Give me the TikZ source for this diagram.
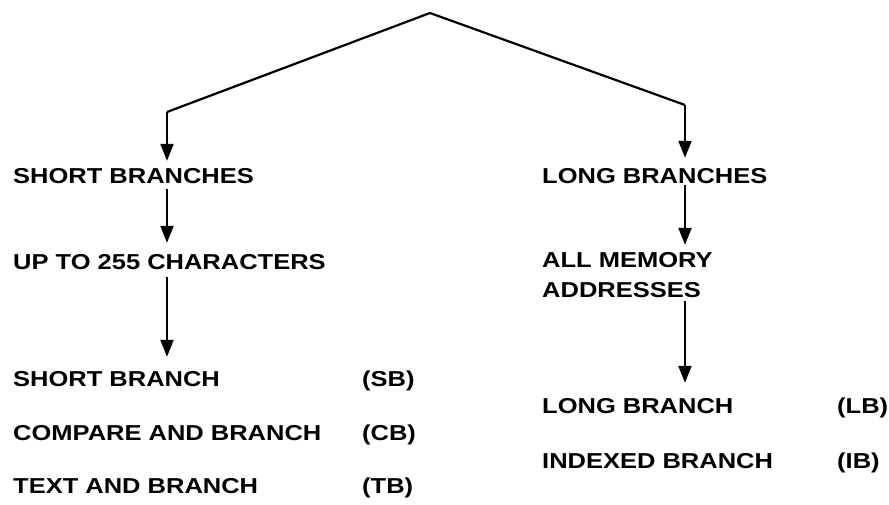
\documentclass[tikz,border=0pt]{standalone}
\usepackage{fontspec}
\setmainfont{Liberation Sans}[FakeStretch=1.18]
\usetikzlibrary{arrows.meta}
\begin{document}
\begin{tikzpicture}[x={(1pt,0)},y={(0,-1pt)},
  lbl/.style={anchor=base west,inner xsep=0pt,inner ysep=6pt,text height=16pt,text depth=0pt,
              font=\fontsize{21.6}{26}\selectfont\bfseries},
  conn/.style={line width=2.2pt,line join=miter},
  arr/.style={conn,-{Triangle[length=17pt,width=13pt]}}]
\useasboundingbox (0,0) rectangle (889,504);
% top junction
\coordinate (apex) at (430,13);
\coordinate (lc) at (167,112);
\coordinate (rc) at (685,105);
% left column
\node[lbl] (sbr) at (13,183) {SHORT BRANCHES};
\node[lbl] (up) at (13,269) {UP TO 255 CHARACTERS};
\node[lbl] (sb) at (13,386) {SHORT BRANCH};
\node[lbl] (cb) at (13,440) {COMPARE AND BRANCH};
\node[lbl] (tb) at (13,493) {TEXT AND BRANCH};
\node[lbl] (sbx) at (362,386) {(SB)};
\node[lbl] (cbx) at (362,440) {(CB)};
\node[lbl] (tbx) at (362,493) {(TB)};
% right column
\node[lbl] (lbr) at (542,183) {LONG BRANCHES};
\node[lbl] (mem) at (542,267) {ALL MEMORY};
\node[lbl] (addr) at (542,297) {ADDRESSES};
\node[lbl] (lb) at (542,413) {LONG BRANCH};
\node[lbl] (ib) at (542,468) {INDEXED BRANCH};
\node[lbl] (lbx) at (837,413) {(LB)};
\node[lbl] (ibx) at (837,468) {(IB)};
% connectors
\draw[conn] (lc) -- (apex) -- (rc);
\draw[arr] (lc) -- (lc |- sbr.north);
\draw[arr] (rc) -- ([yshift=3pt]rc |- lbr.north);
\draw[arr] (lc |- sbr.south) -- ([yshift=4pt]lc |- up.north);
\draw[arr,shorten >=7pt] ([yshift=-2pt]lc |- up.south) -- (lc |- sb.north);
\draw[arr] ([yshift=4pt]rc |- lbr.south) -- (rc |- mem.north);
\draw[arr,shorten >=8pt] ([yshift=2pt]rc |- addr.south) -- (rc |- lb.north);
\end{tikzpicture}
\end{document}
